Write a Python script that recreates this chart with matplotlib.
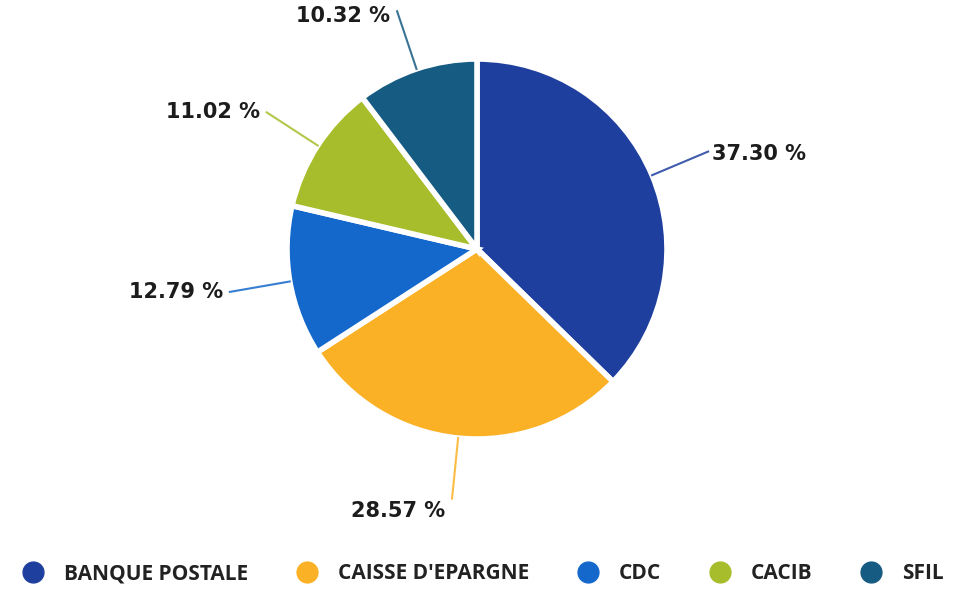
import numpy as np
import matplotlib.pyplot as plt
from matplotlib.lines import Line2D

# data
labels = ['BANQUE POSTALE', "CAISSE D'EPARGNE", 'CDC', 'CACIB', 'SFIL']
shares = [37.30, 28.57, 12.79, 11.02, 10.32]
colors = ['#1f3f9e', '#fbb126', '#1468cc', '#a8bd2b', '#155b82']
pct_text = ['37.30 %', '28.57 %', '12.79 %', '11.02 %', '10.32 %']

plt.rcParams['font.family'] = ['DejaVu Sans']

fig = plt.figure(figsize=(9.56, 5.96), dpi=100)
ax = fig.add_axes([0, 0, 1, 1])

cx, cy, r = 477, 596 - 249, 190
wedges, _ = ax.pie(shares, colors=colors, startangle=90, counterclock=False,
                   center=(cx, cy), radius=r, frame=True,
                   wedgeprops=dict(edgecolor='white', linewidth=4))
ax.set_xlim(0, 956)
ax.set_ylim(0, 596)
ax.set_aspect('equal')
ax.axis('off')

# leader lines + percentage labels
for w, txt, col in zip(wedges, pct_text, colors):
    ang = np.deg2rad((w.theta1 + w.theta2) / 2)
    x0, y0 = cx + r * np.cos(ang), cy + r * np.sin(ang)
    x1, y1 = cx + 1.32 * r * np.cos(ang), cy + 1.32 * r * np.sin(ang)
    ax.plot([x0, x1], [y0, y1], color=col, lw=1.5, alpha=0.85)
    if np.cos(ang) > 0:
        ax.text(x1 + 4, y1 - 2, txt, ha='left', va='center', fontsize=15,
                fontweight='bold', color='#1c1c1c')
    else:
        s = np.sin(ang)
        dy = -12 if s < -0.9 else (-5 if s > 0.9 else 0)
        ax.text(x1 - 7, y1 + dy, txt, ha='right', va='center', fontsize=15,
                fontweight='bold', color='#1c1c1c')

handles = [Line2D([], [], marker='o', ls='', markersize=15, color=c) for c in colors]
fig.legend(handles, labels, loc='lower center', ncol=5, frameon=False,
           bbox_to_anchor=(0.5, -0.012), columnspacing=1.8, handletextpad=0.5,
           labelcolor='#222222',
           prop=dict(family=['Open Sans', 'DejaVu Sans'], weight='bold', size=15))

fig.savefig('out.png', dpi=100)
